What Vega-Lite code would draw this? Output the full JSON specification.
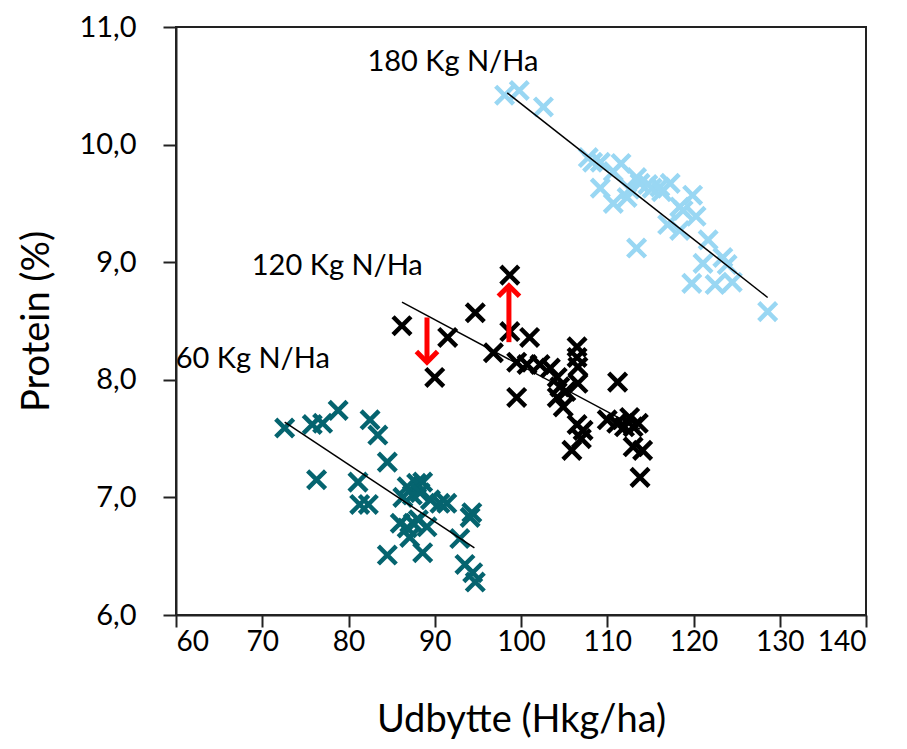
{
  "$schema": "https://vega.github.io/schema/vega-lite/v6.json",
  "width": 690,
  "height": 588,
  "autosize": "none",
  "padding": {"left": 176, "top": 27, "right": 41, "bottom": 134},
  "background": "white",
  "config": {
    "view": {"stroke": "#222", "strokeWidth": 2},
    "font": "Lato"
  },
  "datasets": {
    "pts": [
      {"g": "60", "x": 72.6, "y": 7.59}, {"g": "60", "x": 75.8, "y": 7.62}, {"g": "60", "x": 77.0, "y": 7.63}, {"g": "60", "x": 78.8, "y": 7.74},
      {"g": "60", "x": 76.3, "y": 7.15}, {"g": "60", "x": 82.5, "y": 7.66}, {"g": "60", "x": 83.4, "y": 7.53}, {"g": "60", "x": 84.5, "y": 7.30},
      {"g": "60", "x": 81.1, "y": 7.13}, {"g": "60", "x": 81.3, "y": 6.94}, {"g": "60", "x": 82.3, "y": 6.94}, {"g": "60", "x": 86.8, "y": 7.09},
      {"g": "60", "x": 87.9, "y": 7.12}, {"g": "60", "x": 88.6, "y": 7.13}, {"g": "60", "x": 86.3, "y": 7.00}, {"g": "60", "x": 87.4, "y": 7.02},
      {"g": "60", "x": 88.3, "y": 7.04}, {"g": "60", "x": 90.6, "y": 6.95}, {"g": "60", "x": 91.4, "y": 6.95}, {"g": "60", "x": 94.3, "y": 6.87},
      {"g": "60", "x": 94.1, "y": 6.83}, {"g": "60", "x": 86.0, "y": 6.78}, {"g": "60", "x": 86.8, "y": 6.74}, {"g": "60", "x": 87.5, "y": 6.78},
      {"g": "60", "x": 87.1, "y": 6.66}, {"g": "60", "x": 89.1, "y": 6.75}, {"g": "60", "x": 84.5, "y": 6.51}, {"g": "60", "x": 88.6, "y": 6.53},
      {"g": "60", "x": 92.9, "y": 6.65}, {"g": "60", "x": 93.5, "y": 6.43}, {"g": "60", "x": 94.4, "y": 6.36}, {"g": "60", "x": 94.7, "y": 6.28},
      {"g": "60", "x": 89.5, "y": 6.98}, {"g": "60", "x": 88.1, "y": 6.81},
      {"g": "120", "x": 86.2, "y": 8.46}, {"g": "120", "x": 90.0, "y": 8.02}, {"g": "120", "x": 91.5, "y": 8.36}, {"g": "120", "x": 94.7, "y": 8.57},
      {"g": "120", "x": 98.7, "y": 8.89}, {"g": "120", "x": 96.8, "y": 8.23}, {"g": "120", "x": 98.7, "y": 8.41}, {"g": "120", "x": 101.0, "y": 8.36},
      {"g": "120", "x": 99.5, "y": 8.15}, {"g": "120", "x": 99.5, "y": 7.85}, {"g": "120", "x": 100.7, "y": 8.13}, {"g": "120", "x": 102.2, "y": 8.13},
      {"g": "120", "x": 103.4, "y": 8.10}, {"g": "120", "x": 104.2, "y": 8.02}, {"g": "120", "x": 104.5, "y": 7.94}, {"g": "120", "x": 104.2, "y": 7.85},
      {"g": "120", "x": 104.9, "y": 7.77}, {"g": "120", "x": 106.5, "y": 8.28}, {"g": "120", "x": 106.5, "y": 8.19}, {"g": "120", "x": 106.6, "y": 8.11},
      {"g": "120", "x": 106.6, "y": 7.97}, {"g": "120", "x": 106.5, "y": 7.62}, {"g": "120", "x": 107.2, "y": 7.57}, {"g": "120", "x": 105.9, "y": 7.40},
      {"g": "120", "x": 111.2, "y": 7.98}, {"g": "120", "x": 110.0, "y": 7.66}, {"g": "120", "x": 111.1, "y": 7.63}, {"g": "120", "x": 112.6, "y": 7.68},
      {"g": "120", "x": 113.0, "y": 7.60}, {"g": "120", "x": 113.6, "y": 7.63}, {"g": "120", "x": 113.0, "y": 7.43}, {"g": "120", "x": 114.1, "y": 7.40},
      {"g": "120", "x": 113.8, "y": 7.17}, {"g": "120", "x": 107.0, "y": 7.50}, {"g": "120", "x": 105.2, "y": 7.90}, {"g": "120", "x": 112.0, "y": 7.60},
      {"g": "180", "x": 98.1, "y": 10.42}, {"g": "180", "x": 99.8, "y": 10.46}, {"g": "180", "x": 102.6, "y": 10.32}, {"g": "180", "x": 107.8, "y": 9.89},
      {"g": "180", "x": 109.2, "y": 9.85}, {"g": "180", "x": 111.6, "y": 9.84}, {"g": "180", "x": 109.2, "y": 9.63}, {"g": "180", "x": 110.7, "y": 9.50},
      {"g": "180", "x": 112.3, "y": 9.55}, {"g": "180", "x": 113.4, "y": 9.72}, {"g": "180", "x": 113.8, "y": 9.67}, {"g": "180", "x": 115.2, "y": 9.63},
      {"g": "180", "x": 116.1, "y": 9.64}, {"g": "180", "x": 117.3, "y": 9.67}, {"g": "180", "x": 118.4, "y": 9.47}, {"g": "180", "x": 119.9, "y": 9.57},
      {"g": "180", "x": 118.8, "y": 9.44}, {"g": "180", "x": 117.0, "y": 9.32}, {"g": "180", "x": 118.4, "y": 9.27}, {"g": "180", "x": 113.4, "y": 9.12},
      {"g": "180", "x": 121.7, "y": 9.19}, {"g": "180", "x": 121.1, "y": 8.99}, {"g": "180", "x": 123.4, "y": 9.04}, {"g": "180", "x": 123.9, "y": 8.98},
      {"g": "180", "x": 119.8, "y": 8.82}, {"g": "180", "x": 122.5, "y": 8.81}, {"g": "180", "x": 124.5, "y": 8.83}, {"g": "180", "x": 128.6, "y": 8.58},
      {"g": "180", "x": 112.6, "y": 9.62}, {"g": "180", "x": 114.7, "y": 9.66}, {"g": "180", "x": 116.3, "y": 9.60}, {"g": "180", "x": 120.3, "y": 9.39},
      {"g": "180", "x": 110.7, "y": 9.77}, {"g": "180", "x": 108.3, "y": 9.85}
    ],
    "trend": [
      {"g": "60", "x": 72.6, "y": 7.64, "x2": 94.6, "y2": 6.57},
      {"g": "120", "x": 86.2, "y": 8.66, "x2": 113.8, "y2": 7.58},
      {"g": "180", "x": 98.4, "y": 10.44, "x2": 128.6, "y2": 8.70}
    ],
    "arrows": [
      {"dir": "down", "x": 89.1, "y": 8.53, "y2": 8.15},
      {"dir": "up", "x": 98.6, "y": 8.32, "y2": 8.80}
    ],
    "labels": [
      {"t": "180 Kg N/Ha", "x": 92.1, "y": 10.70},
      {"t": "120 Kg N/Ha", "x": 78.7, "y": 8.97},
      {"t": "60 Kg N/Ha", "x": 68.9, "y": 8.18}
    ]
  },
  "layer": [
    {
      "data": {"name": "pts"},
      "mark": {"type": "point", "shape": "M-1,-1L1,1M-1,1L1,-1", "filled": false, "strokeWidth": 4.5, "size": 320, "opacity": 1},
      "encoding": {
        "x": {"field": "x", "type": "quantitative", "scale": {"domain": [60, 140], "nice": false, "zero": false},
          "axis": {"title": "Udbytte (Hkg/ha)", "values": [60, 70, 80, 90, 100, 110, 120, 130, 140], "grid": false,
            "domainColor": "#222", "domainWidth": 2, "tickColor": "#222", "tickWidth": 2, "tickSize": 12,
            "labelFont": "Lato", "labelFontSize": 28, "labelColor": "#000", "labelPadding": 1,
            "titleFont": "Lato", "titleFontSize": 38, "titleFontWeight": "normal", "titleColor": "#000", "titlePadding": 45}},
        "y": {"field": "y", "type": "quantitative", "scale": {"domain": [6, 11], "nice": false, "zero": false},
          "axis": {"title": "Protein (%)", "values": [6, 7, 8, 9, 10, 11], "grid": false,
            "labelExpr": "replace(format(datum.value, '.1f'), '.', ',')",
            "domainColor": "#222", "domainWidth": 2, "tickColor": "#222", "tickWidth": 2, "tickSize": 13,
            "labelFont": "Lato", "labelFontSize": 29, "labelColor": "#000", "labelPadding": 27,
            "titleFont": "Lato", "titleFontSize": 38, "titleFontWeight": "normal", "titleColor": "#000", "titlePadding": 22}},
        "stroke": {"field": "g", "type": "nominal", "scale": {"domain": ["60", "120", "180"], "range": ["#05646F", "#000000", "#99D7F3"]}, "legend": null}
      }
    },
    {
      "data": {"name": "trend"},
      "mark": {"type": "rule", "color": "#000", "strokeWidth": 1.5},
      "encoding": {
        "x": {"field": "x", "type": "quantitative"},
        "y": {"field": "y", "type": "quantitative"},
        "x2": {"field": "x2"},
        "y2": {"field": "y2"}
      }
    },
    {
      "data": {"name": "arrows"},
      "mark": {"type": "rule", "color": "#FF0000", "strokeWidth": 5},
      "encoding": {
        "x": {"field": "x", "type": "quantitative"},
        "y": {"field": "y", "type": "quantitative"},
        "y2": {"field": "y2"}
      }
    },
    {
      "data": {"name": "arrows"},
      "transform": [{"filter": "datum.dir == 'down'"}],
      "mark": {"type": "point", "shape": "M-1,-1L0,0L1,-1", "filled": false, "stroke": "#FF0000", "strokeWidth": 5, "size": 450, "opacity": 1, "strokeJoin": "miter"},
      "encoding": {
        "x": {"field": "x", "type": "quantitative"},
        "y": {"field": "y2", "type": "quantitative"}
      }
    },
    {
      "data": {"name": "arrows"},
      "transform": [{"filter": "datum.dir == 'up'"}],
      "mark": {"type": "point", "shape": "M-1,1L0,0L1,1", "filled": false, "stroke": "#FF0000", "strokeWidth": 5, "size": 450, "opacity": 1, "strokeJoin": "miter"},
      "encoding": {
        "x": {"field": "x", "type": "quantitative"},
        "y": {"field": "y2", "type": "quantitative"}
      }
    },
    {
      "data": {"name": "labels"},
      "mark": {"type": "text", "font": "Lato", "fontSize": 29, "color": "#000", "align": "center", "baseline": "middle"},
      "encoding": {
        "x": {"field": "x", "type": "quantitative"},
        "y": {"field": "y", "type": "quantitative"},
        "text": {"field": "t"}
      }
    }
  ]
}
